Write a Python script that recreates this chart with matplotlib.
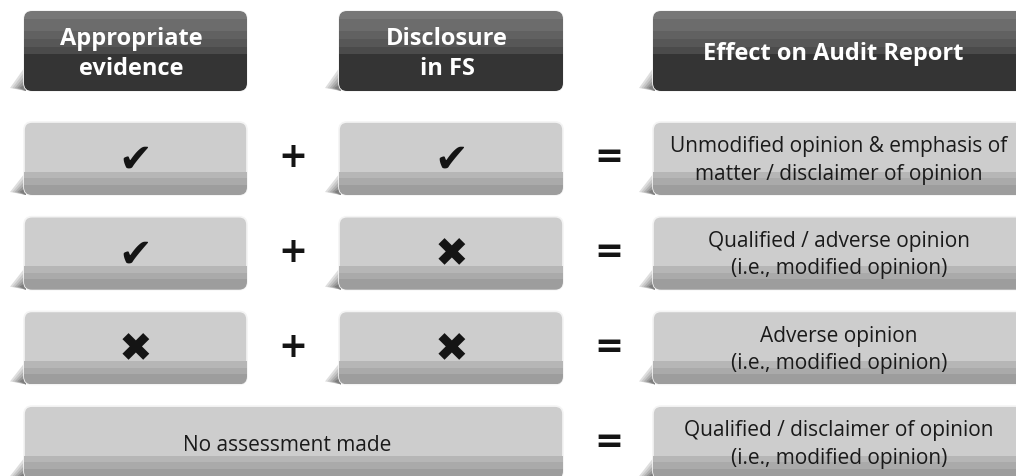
import matplotlib
matplotlib.use("Agg")
import matplotlib.pyplot as plt
from matplotlib.patches import FancyBboxPatch, Rectangle, Polygon

# Content
headers = ["Appropriate\nevidence", "Disclosure\nin FS", "Effect on Audit Report"]
evidence = ["yes", "yes", "no", None]
disclosure = ["yes", "no", "no", None]
results = [
    "Unmodified opinion & emphasis of\nmatter / disclaimer of opinion",
    "Qualified / adverse opinion\n(i.e., modified opinion)",
    "Adverse opinion\n(i.e., modified opinion)",
    "Qualified / disclaimer of opinion\n(i.e., modified opinion)",
]
merged_text = "No assessment made"
marks = {"yes": "\u2714", "no": "\u2716"}

# Layout (pixels)
W, H = 1016, 477
cols = [(24, 247), (339, 563), (653, 1030)]
plus_x, eq_x = 293, 609
head_top, head_h = 12, 80
row_top0, row_pitch, row_h = 123, 94.7, 73

fig = plt.figure(figsize=(W / 100, H / 100), dpi=100)
ax = fig.add_axes([0, 0, 1, 1])
ax.set_xlim(0, W)
ax.set_ylim(H, 0)
ax.axis("off")

FONT = ["Open Sans", "DejaVu Sans"]


def shadow(x0, y1, depth):
    # curled page shadow at the bottom-left corner
    shades = ["#dedede", "#c8c8c8", "#b0b0b0", "#979797", "#7e7e7e"]
    for k, c in enumerate(shades):
        f = 1 - k * 0.17
        ax.add_patch(Polygon([(x0 + 2, y1 - depth * f), (x0 - 14 * f, y1 - 3),
                              (x0 + 2, y1)], closed=True, fc=c, ec="none", zorder=1))


def box(x0, x1, top, h, bands, base):
    shadow(x0, top + h, h * 0.32)
    patch = FancyBboxPatch((x0, top), x1 - x0, h, boxstyle="round,pad=0,rounding_size=8",
                           fc=base, ec="#f4f4f4", lw=1.2, zorder=2)
    ax.add_patch(patch)
    for (a, b, c) in bands:
        r = Rectangle((x0, top + a * h), x1 - x0, (b - a) * h, fc=c, ec="none", zorder=3)
        ax.add_patch(r)
        r.set_clip_path(patch)


dark_bands = [(0, 0.1, "#777777"), (0.1, 0.25, "#6c6c6c"), (0.25, 0.35, "#616161"),
              (0.35, 0.45, "#575757"), (0.45, 0.54, "#4b4b4b"), (0.54, 1, "#343434")]
light_bands = [(0.68, 0.77, "#b6b6b6"), (0.77, 0.86, "#aaaaaa"), (0.86, 1, "#9d9d9d")]

# Header row
for (x0, x1), label in zip(cols, headers):
    box(x0, x1, head_top, head_h, dark_bands, "#343434")
    cx = (x0 + x1) / 2 - 4 if x1 < W else 833
    ax.text(cx, head_top + head_h / 2 + 2, label, ha="center", va="center", color="white",
            fontsize=17, fontweight="bold", family=FONT, linespacing=1.3, zorder=5)

# Body rows
for i in range(len(results)):
    top = row_top0 + i * row_pitch
    cy = top + row_h / 2
    if evidence[i] is None:
        box(cols[0][0], cols[1][1], top, row_h, light_bands, "#cdcdcd")
        ax.text((cols[0][0] + cols[1][1]) / 2 - 6, cy + 2, merged_text, ha="center",
                va="center", color="#1a1a1a", fontsize=15, family=FONT, zorder=5)
    else:
        for (x0, x1), val in zip(cols[:2], (evidence[i], disclosure[i])):
            box(x0, x1, top, row_h, light_bands, "#cdcdcd")
            ax.text((x0 + x1) / 2, cy + 1, marks[val], ha="center", va="center",
                    color="#141414", fontsize=29, family="DejaVu Sans", zorder=5)
        ax.text(plus_x, cy - 2, "+", ha="center", va="center", color="#141414",
                fontsize=25, fontweight="bold", family="DejaVu Sans", zorder=5)
    ax.text(eq_x, cy - 2, "=", ha="center", va="center", color="#141414",
            fontsize=25, fontweight="bold", family="DejaVu Sans", zorder=5)
    box(cols[2][0], cols[2][1], top, row_h, light_bands, "#cdcdcd")
    ax.text(839, cy + 1, results[i], ha="center", va="center", color="#1a1a1a",
            fontsize=15, family=FONT, linespacing=1.4, zorder=5)

fig.savefig("out.png", dpi=100, facecolor="white")
